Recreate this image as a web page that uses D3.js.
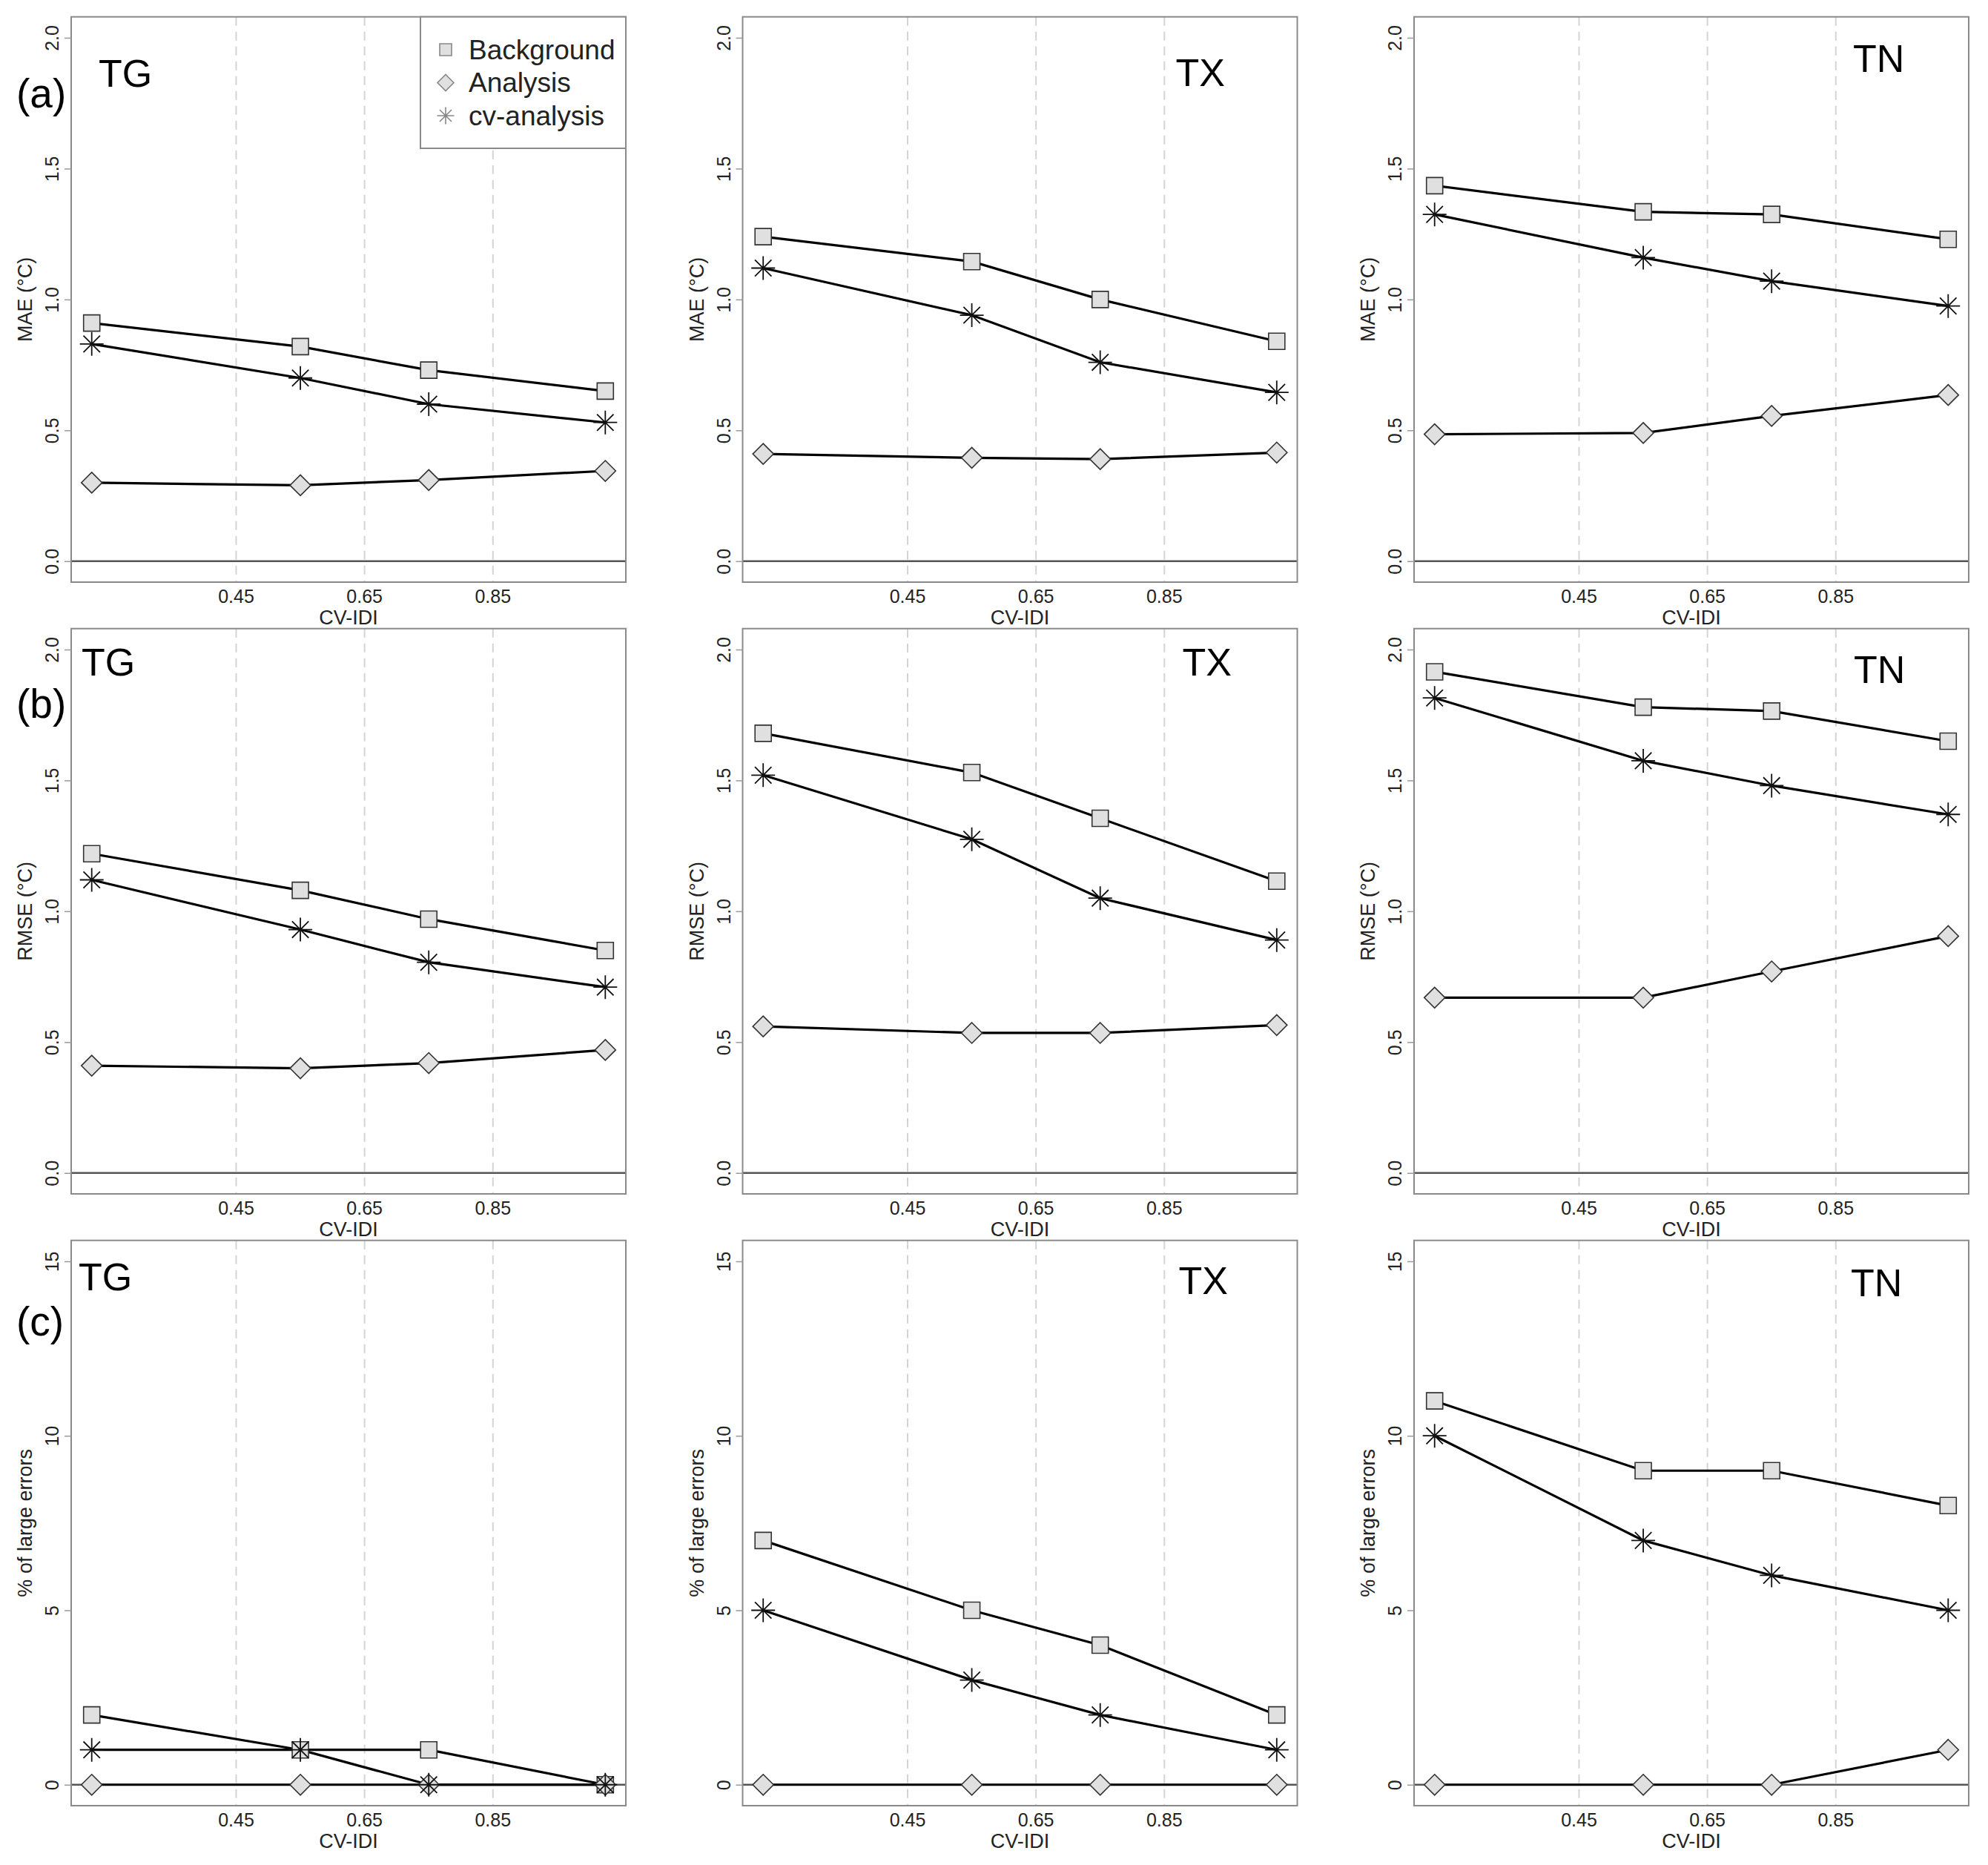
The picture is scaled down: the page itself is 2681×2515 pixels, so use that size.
<!DOCTYPE html>
<html>
<head>
<meta charset="utf-8">
<script src="https://cdn.jsdelivr.net/npm/d3@7"></script>
<style>
  body { margin: 0; background: #fff; }
  text { font-family: "Liberation Sans", Arial, sans-serif; }
</style>
</head>
<body>
<div id="chart"></div>
<script>
// x positions (CV-IDI class midpoints) and labels
var cvIdi = [0.225, 0.55, 0.75, 1.025];
var xTicks = [0.45, 0.65, 0.85];
var variables = ["TG", "TX", "TN"];
var seriesNames = ["Background", "Analysis", "cv-analysis"];

// values per variable (TG, TX, TN)
var maeBackground = [[0.91, 0.82, 0.73, 0.65], [1.24, 1.145, 1.0, 0.84], [1.435, 1.335, 1.325, 1.23]];
var maeAnalysis   = [[0.30, 0.29, 0.31, 0.345], [0.41, 0.395, 0.39, 0.415], [0.485, 0.49, 0.555, 0.635]];
var maeCv         = [[0.83, 0.70, 0.60, 0.53], [1.12, 0.94, 0.76, 0.645], [1.325, 1.16, 1.07, 0.975]];

var rmseBackground = [[1.22, 1.08, 0.97, 0.85], [1.68, 1.53, 1.355, 1.115], [1.915, 1.78, 1.765, 1.65]];
var rmseAnalysis   = [[0.41, 0.40, 0.42, 0.47], [0.56, 0.535, 0.535, 0.565], [0.67, 0.67, 0.77, 0.905]];
var rmseCv         = [[1.12, 0.93, 0.805, 0.71], [1.52, 1.275, 1.05, 0.89], [1.815, 1.575, 1.48, 1.37]];

var largeBackground = [[2, 1, 1, 0], [7, 5, 4, 2], [11, 9, 9, 8]];
var largeAnalysis   = [[0, 0, 0, 0], [0, 0, 0, 0], [0, 0, 0, 1]];
var largeCv         = [[1, 1, 0, 0], [5, 3, 2, 1], [10, 7, 6, 5]];

var rowLabels = ["(a)", "(b)", "(c)"];
var yLabels = ["MAE (\u00B0C)", "RMSE (\u00B0C)", "% of large errors"];
var yTicksDec = [0, 0.5, 1, 1.5, 2];
var yTicksPct = [0, 5, 10, 15];

var rows = [
  {bg: maeBackground, an: maeAnalysis, cv: maeCv, ylim: [0, 2], ticks: yTicksDec, fmt: d3.format(".1f")},
  {bg: rmseBackground, an: rmseAnalysis, cv: rmseCv, ylim: [0, 2], ticks: yTicksDec, fmt: d3.format(".1f")},
  {bg: largeBackground, an: largeAnalysis, cv: largeCv, ylim: [0, 15], ticks: yTicksPct, fmt: d3.format("d")}
];

// layout
var W = 2681, H = 2515;
var colLeft = [96, 1001.5, 1907], rowTop = [22.7, 847.7, 1672.7];
var pw = 748, ph = 762.3;
// title offsets (dx, baseline dy) per row/col
var titlePos = [
  [[37, 94], [584, 93], [592, 74]],
  [[14, 63], [593, 63], [593, 73]],
  [[10, 67], [588, 72], [589, 75]]
];
var rowLabelY = [145, 968, 1801];

var svg = d3.select("#chart").append("svg")
  .attr("width", W).attr("height", H);

// R-style 4% axis extension
function extend(lim) {
  var r = lim[1] - lim[0];
  return [lim[0] - 0.04 * r, lim[1] + 0.04 * r];
}

function asterisk(s) {
  var d = s * 0.7;
  return "M" + (-s) + ",0L" + s + ",0M0," + (-s) + "L0," + s +
    "M" + (-d) + "," + (-d) + "L" + d + "," + d +
    "M" + (-d) + "," + d + "L" + d + "," + (-d);
}
function square(s) { return "M" + (-s) + "," + (-s) + "h" + (2 * s) + "v" + (2 * s) + "h" + (-2 * s) + "Z"; }
function diamond(s) { return "M0," + (-s) + "L" + s + ",0L0," + s + "L" + (-s) + ",0Z"; }

rows.forEach(function(row, ri) {
  variables.forEach(function(v, ci) {
    var left = colLeft[ci], top = rowTop[ri];
    var x = d3.scaleLinear().domain(extend(d3.extent(cvIdi))).range([left, left + pw]);
    var y = d3.scaleLinear().domain(extend(row.ylim)).range([top + ph, top]);
    var g = svg.append("g");

    // dashed grid
    g.selectAll(".grid").data(xTicks).enter().append("line")
      .attr("x1", function(d) { return x(d); }).attr("x2", function(d) { return x(d); })
      .attr("y1", top).attr("y2", top + ph)
      .attr("stroke", "#d4d4d4").attr("stroke-width", 2).attr("stroke-dasharray", "12,8");

    // zero line
    g.append("line")
      .attr("x1", left).attr("x2", left + pw)
      .attr("y1", y(0)).attr("y2", y(0))
      .attr("stroke", "#555").attr("stroke-width", 2.5);

    // box
    g.append("rect")
      .attr("x", left).attr("y", top).attr("width", pw).attr("height", ph)
      .attr("fill", "none").attr("stroke", "#8a8a8a").attr("stroke-width", 2);

    // y axis
    var yAxis = d3.axisLeft(y).tickValues(row.ticks).tickFormat(row.fmt).tickSize(9).tickPadding(0);
    var ya = g.append("g").attr("transform", "translate(" + left + ",0)").call(yAxis);
    ya.select(".domain").remove();
    ya.selectAll(".tick line").attr("stroke", "#999").attr("stroke-width", 1.5);
    ya.selectAll(".tick text")
      .attr("x", null).attr("dy", null)
      .attr("transform", "translate(-26,0) rotate(-90)")
      .attr("text-anchor", "middle").attr("dominant-baseline", "central")
      .attr("font-size", 25).attr("fill", "#222")
      .style("font-family", "'Liberation Sans', Arial, sans-serif");

    // x tick labels
    g.selectAll(".xt").data(xTicks).enter().append("text")
      .attr("x", function(d) { return x(d); }).attr("y", top + ph + 28)
      .attr("text-anchor", "middle").attr("font-size", 25).attr("fill", "#222")
      .text(function(d) { return d3.format(".2f")(d); });

    g.append("text")
      .attr("x", left + pw / 2).attr("y", top + ph + 57)
      .attr("text-anchor", "middle").attr("font-size", 27).attr("fill", "#222")
      .text("CV-IDI");

    g.append("text")
      .attr("transform", "translate(" + (left - 62) + "," + (top + ph / 2) + ") rotate(-90)")
      .attr("text-anchor", "middle").attr("dominant-baseline", "central")
      .attr("font-size", 27).attr("fill", "#222")
      .text(yLabels[ri]);

    // series
    var line = d3.line().x(function(d, i) { return x(cvIdi[i]); }).y(function(d) { return y(d); });
    var series = [
      {vals: row.bg[ci], shape: square, size: 11},
      {vals: row.an[ci], shape: diamond, size: 14},
      {vals: row.cv[ci], shape: asterisk, size: 16}
    ];
    series.forEach(function(s) {
      g.append("path").datum(s.vals).attr("d", line)
        .attr("fill", "none").attr("stroke", "#000").attr("stroke-width", 3.2);
    });
    series.forEach(function(s, si) {
      g.selectAll(".pt" + si).data(s.vals).enter().append("path")
        .attr("transform", function(d, i) { return "translate(" + x(cvIdi[i]) + "," + y(d) + ")"; })
        .attr("d", s.shape(s.size))
        .attr("fill", si === 2 ? "none" : "#e0e0e0")
        .attr("stroke", si === 2 ? "#111" : "#333")
        .attr("stroke-width", si === 2 ? 1.8 : 1.6);
    });

    // panel title
    g.append("text")
      .attr("x", left + titlePos[ri][ci][0]).attr("y", top + titlePos[ri][ci][1])
      .attr("font-size", 52).attr("fill", "#000").text(v);
  });

  svg.append("text")
    .attr("x", 22).attr("y", rowLabelY[ri])
    .attr("font-size", 55).attr("fill", "#000").text(rowLabels[ri]);
});

// legend in first panel
var lg = svg.append("g");
lg.append("rect").attr("x", 567).attr("y", rowTop[0]).attr("width", 844 - 567).attr("height", 200 - rowTop[0])
  .attr("fill", "#fff").attr("stroke", "#8a8a8a").attr("stroke-width", 2);
var legShapes = [square(8), diamond(11), asterisk(11.5)];
seriesNames.forEach(function(name, i) {
  var ly = 67 + i * 44.5;
  lg.append("path").attr("transform", "translate(601," + ly + ")").attr("d", legShapes[i])
    .attr("fill", i === 2 ? "none" : "#e0e0e0").attr("stroke", "#888").attr("stroke-width", 1.6);
  lg.append("text").attr("x", 632).attr("y", ly).attr("dominant-baseline", "central")
    .attr("font-size", 37).attr("fill", "#222").text(name);
});
</script>
</body>
</html>
